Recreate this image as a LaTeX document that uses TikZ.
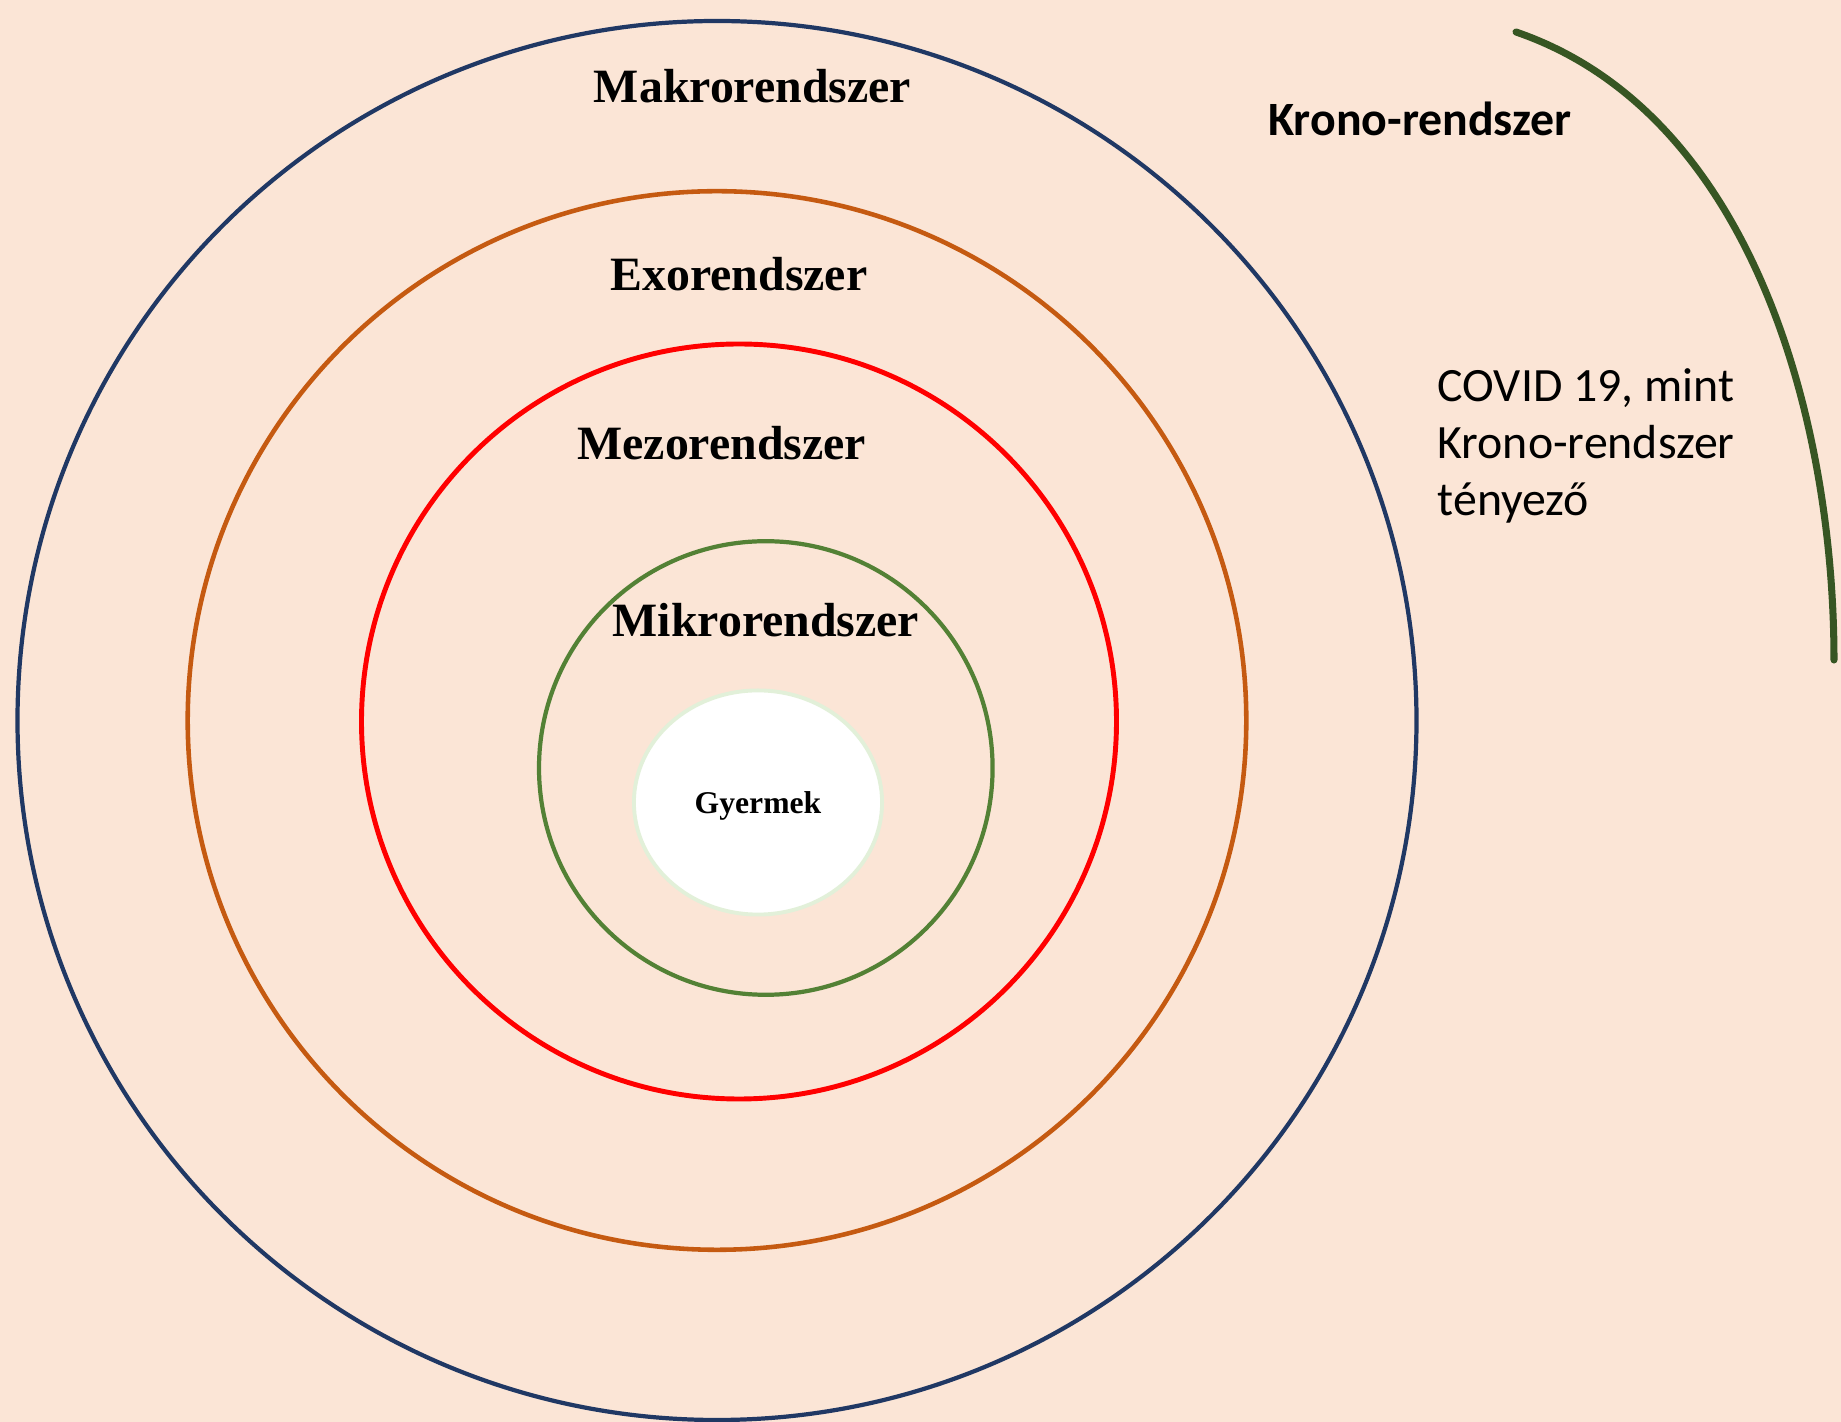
\documentclass[tikz,border=0pt]{standalone}
\usepackage{fontspec}
\setmainfont{Liberation Serif}
\newfontfamily\calibri{Carlito}
\usetikzlibrary{shapes.geometric}
\definecolor{hatter}{HTML}{FBE5D6}
\definecolor{makro}{HTML}{203864}
\definecolor{exo}{HTML}{C55A11}
\definecolor{mezo}{HTML}{FF0000}
\definecolor{mikro}{HTML}{538135}
\definecolor{gyerekszel}{HTML}{E2F0D9}
\definecolor{krono}{HTML}{375623}
\tikzset{rendszer/.style={anchor=base,inner sep=0pt,font=\fontsize{13.6pt}{16pt}\selectfont\bfseries},
         kor/.style={line width=1.2pt}}

\begin{document}
\begin{tikzpicture}[x=0.01cm,y=-0.01cm]
            \useasboundingbox (0,0) rectangle (1841,1422);
            \fill[hatter] (0,0) rectangle (1841,1422);
            % körök
            \draw[kor,makro] (717,720.5) circle[radius=699.5];
            \draw[kor,exo,line width=1.3pt] (717,720.5) circle[radius=529.3];
            \draw[kor,mezo,line width=1.4pt] (739,721.5) circle[radius=377.5];
            \draw[kor,mikro] (765.8,768) circle[radius=226.8];
            % gyermek
            \node[ellipse,draw=gyerekszel,line width=1.1pt,fill=white,minimum width=2.48cm,minimum height=2.24cm,
                  inner sep=0pt,text depth=0pt,font=\fontsize{9pt}{10pt}\selectfont\bfseries] (gyermek) at (758,802.5) {Gyermek};
            % feliratok
            \node[rendszer] (makrofelirat) at (752.5,103) {Makrorendszer};
            \node[rendszer] (exofelirat) at (739,290.7) {Exorendszer};
            \node[rendszer] (mezofelirat) at (721.7,460) {Mezorendszer};
            \node[rendszer] (mikrofelirat) at (766,637) {Mikrorendszer};
            % krono-rendszer
            \node[anchor=base west,inner sep=0pt,font=\calibri\fontsize{13.6pt}{16pt}\selectfont\bfseries] (kronofelirat) at (1267.5,136) {Krono-rendszer};
            \node[anchor=base west,inner sep=0pt,align=left,font=\calibri\fontsize{13.6pt}{16.2pt}\selectfont] (covid) at (1437,515.6)
                {COVID 19, mint\\Krono-rendszer\\tényező};
            \draw[krono,line width=2pt,line cap=round] (1516,32) .. controls (1752,113) and (1834,420) .. (1834,660);
\end{tikzpicture}
\end{document}
